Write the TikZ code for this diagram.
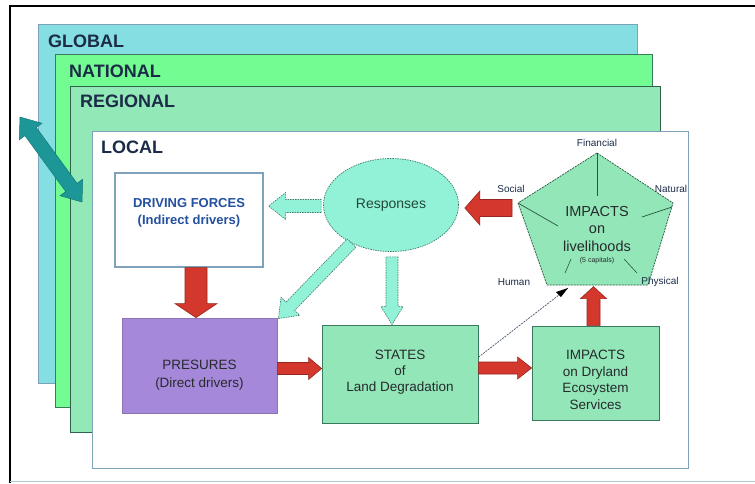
\documentclass[tikz,border=0pt]{standalone}
\usepackage{fontspec}
\setmainfont{Liberation Sans}
\usetikzlibrary{calc,shapes.geometric}
\definecolor{globalc}{HTML}{84DEE2}
\definecolor{nationalc}{HTML}{72FC92}
\definecolor{regionalc}{HTML}{92E8B6}
\definecolor{aqua}{HTML}{92F2D8}
\definecolor{aquaedge}{HTML}{3E7A6C}
\definecolor{boxgreen}{HTML}{92E6B8}
\definecolor{purp}{HTML}{A688DA}
\definecolor{redarr}{HTML}{D4382C}
\definecolor{tealarr}{HTML}{1C9696}
\definecolor{navy}{HTML}{1C2C48}
\definecolor{darktxt}{HTML}{262A2C}
\definecolor{bluetxt}{HTML}{2450A0}
\definecolor{edgeblue}{HTML}{7EA2BA}
\definecolor{edgegreen}{HTML}{3A7A5C}
\newcommand\blockarrow[6]{%
 \path[#1] let \p1=(#2), \p2=(#3), \n1={atan2(\y2-\y1,\x2-\x1)}, \n2={veclen(\x2-\x1,\y2-\y1)}, \n3={\n2-#6pt}, \n4={\n1+90}, \n5={\n1-90} in
 ($(\p1)+(\n4:#4pt)$) -- ($(\p1)+(\n1:\n3)+(\n4:#4pt)$) -- ($(\p1)+(\n1:\n3)+(\n4:#5pt)$) -- (\p2) -- ($(\p1)+(\n1:\n3)+(\n5:#5pt)$) -- ($(\p1)+(\n1:\n3)+(\n5:#4pt)$) -- ($(\p1)+(\n5:#4pt)$) -- cycle;}
\newcommand\dblockarrow[6]{%
 \path[#1] let \p1=(#2), \p2=(#3), \n1={atan2(\y2-\y1,\x2-\x1)}, \n2={veclen(\x2-\x1,\y2-\y1)}, \n3={\n2-#6pt}, \n4={\n1+90}, \n5={\n1-90} in
 (\p1) -- ($(\p1)+(\n1:#6pt)+(\n4:#5pt)$) -- ($(\p1)+(\n1:#6pt)+(\n4:#4pt)$) -- ($(\p1)+(\n1:\n3)+(\n4:#4pt)$) -- ($(\p1)+(\n1:\n3)+(\n4:#5pt)$) -- (\p2) -- ($(\p1)+(\n1:\n3)+(\n5:#5pt)$) -- ($(\p1)+(\n1:\n3)+(\n5:#4pt)$) -- ($(\p1)+(\n1:#6pt)+(\n5:#4pt)$) -- ($(\p1)+(\n1:#6pt)+(\n5:#5pt)$) -- cycle;}
\tikzset{
 layerlbl/.style={anchor=west, font=\fontsize{18}{20}\selectfont\bfseries, text=navy, inner sep=0pt},
 boxtxt/.style={align=center, font=\fontsize{13.5}{16}\selectfont, text=darktxt, inner sep=0pt},
 vlbl/.style={font=\fontsize{10}{12}\selectfont, text=navy, inner sep=0pt},
 redarrow/.style={fill=redarr, draw=redarr!70!black, line width=0.6pt},
 aquaarrow/.style={fill=aqua, draw=aquaedge, line width=0.6pt, dash pattern=on 1.5pt off 1pt},
 tealarrow/.style={fill=tealarr, draw=tealarr!80!black, line width=0.5pt},
 greenbox/.style={draw=edgegreen, fill=boxgreen, line width=0.8pt, inner sep=0pt},
}
\begin{document}
\begin{tikzpicture}[x=1pt,y=-1pt]
\useasboundingbox (0,0) rectangle (755,483);
\fill[white] (0,0) rectangle (755,483);
% outer frame
\draw[black, line width=1.3pt] (10,483) -- (10,6) -- (755,6);
\draw[edgeblue!60, line width=1pt] (10,481) -- (755,481);
% layers
\draw[fill=globalc, draw=edgeblue, line width=0.8pt] (38,24) rectangle (637,383);
\node[layerlbl] (lglobal) at (48,41) {GLOBAL};
\draw[fill=nationalc, draw=edgegreen, line width=0.8pt] (55,54) rectangle (652,407);
\node[layerlbl] (lnational) at (69,71) {NATIONAL};
\draw[fill=regionalc, draw=edgegreen!80!black, line width=0.8pt] (70,86) rectangle (660,432);
\node[layerlbl] (lregional) at (80,101) {REGIONAL};
\draw[fill=white, draw=edgeblue, line width=1pt] (92,131) rectangle (688,468);
\node[layerlbl] (llocal) at (101,147) {LOCAL};
% teal double arrow
\coordinate (ta) at (20,117);
\coordinate (tb) at (82,202);
\dblockarrow{tealarrow}{ta}{tb}{7}{14}{18}
% boxes
\node[draw=edgeblue, line width=1.3pt, fill=white, minimum width=148pt, minimum height=94pt, inner sep=0pt] (drv) at (189,220) {};
\node[boxtxt, text=bluetxt, font=\fontsize{13}{17}\selectfont\bfseries] (drvtxt) at (189,213) {DRIVING FORCES\\(Indirect drivers)};
\node[draw=purp!85!black, line width=0.8pt, fill=purp, minimum width=155pt, minimum height=95pt, inner sep=0pt] (pres) at (199.5,365.5) {};
\node[boxtxt, font=\fontsize{13.5}{18}\selectfont] (prestxt) at (199.5,375) {PRESURES\\(Direct drivers)};
\node[greenbox, minimum width=156pt, minimum height=98pt] (states) at (400,374) {};
\node[boxtxt] (statestxt) at (400,372) {STATES\\of\\Land Degradation};
\node[greenbox, minimum width=127pt, minimum height=94pt] (imp) at (595.5,373) {};
\node[boxtxt, font=\fontsize{13.5}{16.5}\selectfont] (imptxt) at (595.5,380) {IMPACTS\\on Dryland\\Ecosystem\\Services};
\node[ellipse, draw=aquaedge, fill=aqua, line width=0.7pt, dash pattern=on 1.5pt off 1pt, minimum width=135pt, minimum height=93pt, inner sep=0pt, font=\fontsize{14}{16}\selectfont, text=edgegreen!60!black] (resp) at (391,205) {Responses};
% pentagon
\coordinate (pT) at (597,153);
\coordinate (pL) at (518,203);
\coordinate (pR) at (673,203);
\coordinate (pBL) at (547,285);
\coordinate (pBR) at (648,285);
\draw[fill=boxgreen, draw=edgegreen!70!black, line width=0.7pt, dash pattern=on 2pt off 1pt] (pT) -- (pR) -- (pBR) -- (pBL) -- (pL) -- cycle;
\draw[edgegreen!70!black, line width=0.7pt] (pT) -- (597,196);
\draw[edgegreen!70!black, line width=0.7pt] (pL) -- (558,226);
\draw[edgegreen!70!black, line width=0.7pt] (672,207) -- (642,217);
\draw[edgegreen!70!black, line width=0.6pt] (565,273) -- (571,259);
\draw[edgegreen!70!black, line width=0.6pt] (637,273) -- (624,259);
\node[boxtxt, font=\fontsize{14.5}{17.5}\selectfont] (pentxt) at (597,229) {IMPACTS\\on\\livelihoods};
\node[boxtxt, font=\fontsize{7}{8}\selectfont] (pencap) at (597,261) {(5 capitals)};
\node[vlbl] (lfin) at (597,143) {Financial};
\node[vlbl] (lsoc) at (511,189) {Social};
\node[vlbl] (lnat) at (671,189) {Natural};
\node[vlbl] (lhum) at (514,282) {Human};
\node[vlbl] (lphy) at (660,282) {Physical};
% aqua arrows
\blockarrow{aquaarrow}{$(resp.west)+(-2,1)$}{$(drv.east |- resp.west)+(5,1)$}{6.5}{13.5}{17}
\blockarrow{aquaarrow}{resp.224}{$(pres.north east)+(1,1)$}{6}{13}{17}
\blockarrow{aquaarrow}{$(resp.south)+(1,5)$}{$(resp.south |- states.north)+(1,0)$}{6}{11}{18}
% red arrows
\blockarrow{redarrow}{$(pL)+(-6,5)$}{$(resp.east)+(6,3)$}{8.5}{17}{15}
\blockarrow{redarrow}{$(drv.south)+(7,0)$}{$(drv.south |- pres.north)+(7,0)$}{11}{21}{14}
\blockarrow{redarrow}{$(pres.east)+(0,3)$}{$(pres.east -| states.west)+(0,3)$}{6}{11}{13}
\blockarrow{redarrow}{$(states.east)+(0,-6)$}{$(states.east -| imp.west)+(0,-6)$}{6}{11}{14}
\blockarrow{redarrow}{$(imp.north)+(-2,0)$}{$(imp.north)+(-2,-39)$}{6.5}{13}{12}
% thin dashed arrow
\coordinate (hum) at (568,288);
\draw[navy!80, line width=0.7pt, dash pattern=on 2pt off 1pt] ($(states.north east)!0.33!(states.south east)$) -- (hum);
\fill[black] (hum) -- ++(-12,4) -- ++(5,5) -- cycle;
\end{tikzpicture}
\end{document}
